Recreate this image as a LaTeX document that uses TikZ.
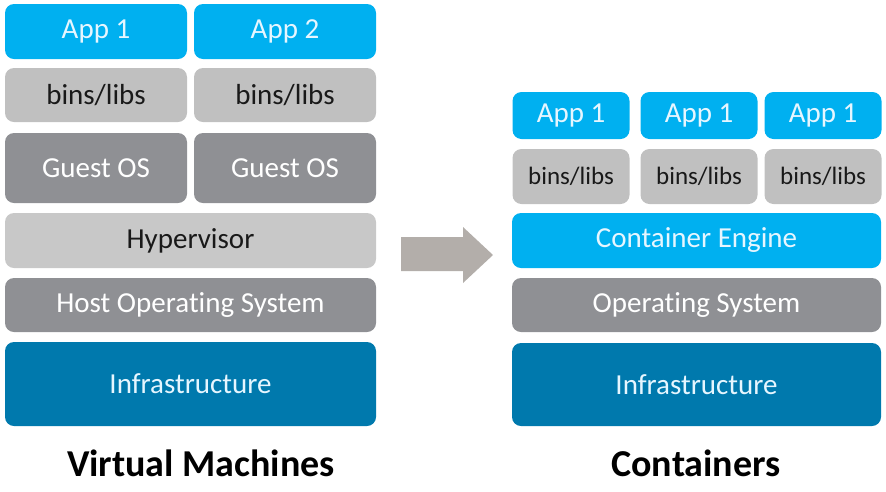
\documentclass[tikz,border=0pt]{standalone}
\usepackage{fontspec}
\setmainfont{Carlito}[Ligatures=NoCommon]
\definecolor{appblue}{HTML}{00B0F0}
\definecolor{infrablue}{HTML}{0079AD}
\definecolor{libgray}{HTML}{C0C0C0}
\definecolor{hypgray}{HTML}{C8C8C8}
\definecolor{osgray}{HTML}{8F9094}
\definecolor{arrowgray}{HTML}{B3AEAA}
\definecolor{lighttext}{HTML}{E6F6FF}
\begin{document}
\begin{tikzpicture}[x=1pt,y=-1pt,
	layer/.style={rounded corners=9pt,inner sep=0pt,font=\fontsize{29}{34}\selectfont},
	app/.style={layer,fill=appblue,text=lighttext},
	libs/.style={layer,fill=libgray,text=black!90},
	guest/.style={layer,fill=osgray,text=white},
	infra/.style={layer,fill=infrablue,text=lighttext},
	title/.style={font=\fontsize{38}{44}\selectfont\bfseries,text=black}]
	\useasboundingbox (0,0) rectangle (886,491);
	% virtual machines
	\foreach \x/\n in {96/1,285/2} {
		\node[app,minimum width=182pt,minimum height=55pt] (vmapp\n) at (\x,31.5) {App \n};
		\node[libs,minimum width=182pt,minimum height=54pt] (vmlibs\n) at (\x,95) {bins/libs};
		\node[guest,minimum width=182pt,minimum height=70pt] (vmguest\n) at (\x,168) {Guest OS};
	}
	\node[libs,fill=hypgray,minimum width=371pt,minimum height=55pt] (hyper) at (190.5,240.5) {Hypervisor};
	\node[guest,minimum width=371pt,minimum height=54pt] (hostos) at (190.5,305) {Host Operating System};
	\node[infra,minimum width=371pt,minimum height=84pt] (vminfra) at (190.5,384) {Infrastructure};
	\node[title] (vmtitle) at (201,463) {Virtual Machines};
	% arrow
	\fill[arrowgray] (401,237)--(463,237)--(463,227)--(493,255)--(463,283)--(463,271)--(401,271)--cycle;
	% containers
	\foreach \x/\n in {571/1,699/2,823/3} {
		\node[app,minimum width=117pt,minimum height=47pt] (capp\n) at (\x,115.5) {App 1};
		\node[libs,font=\fontsize{25}{30}\selectfont,minimum width=117pt,minimum height=55pt] (clibs\n) at (\x,176.5) {bins/libs};
	}
	\node[app,minimum width=369pt,minimum height=55pt] (engine) at (696.5,240.5) {Container Engine};
	\node[guest,minimum width=369pt,minimum height=54pt] (cos) at (696.5,305) {Operating System};
	\node[infra,minimum width=369pt,minimum height=83pt] (cinfra) at (696.5,384.5) {Infrastructure};
	\node[title] (ctitle) at (696,463) {Containers};
\end{tikzpicture}
\end{document}
